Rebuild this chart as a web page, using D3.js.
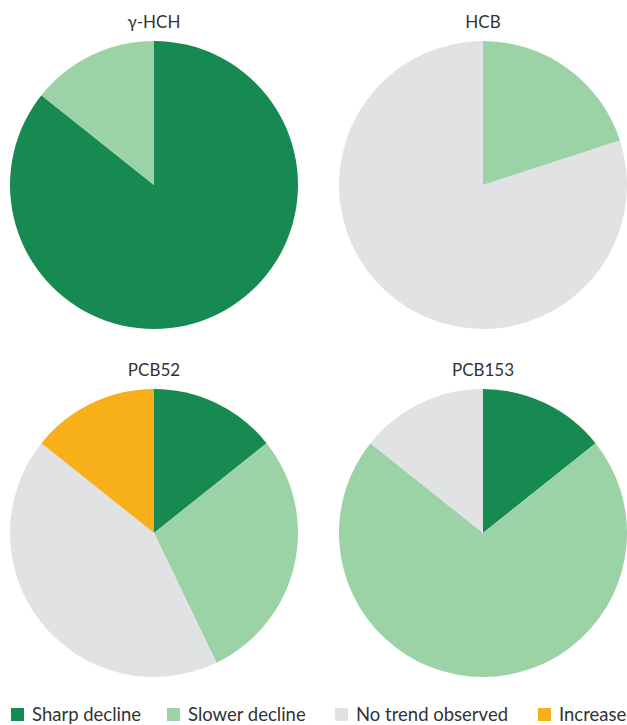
<!DOCTYPE html>
<html>
<head>
<meta charset="utf-8">
<script src="https://cdn.jsdelivr.net/npm/d3@7"></script>
<style>
  html, body { margin: 0; padding: 0; background: #fff; }
  svg { display: block; }
</style>
</head>
<body>
<svg id="chart" width="627" height="725"></svg>
<script>
// Trend categories and their colours
const categories = ["Sharp decline", "Slower decline", "No trend observed", "Increase"];
const colors = ["#178a52", "#9cd3a6", "#e1e2e4", "#f8b01a"];

// Compounds, one pie each
const compounds = ["γ-HCH", "HCB", "PCB52", "PCB153"];

// Number of monitoring series in each trend category, per compound
const sharpDecline  = [6, 0, 1, 1];
const slowerDecline = [1, 1, 2, 5];
const noTrend       = [0, 4, 3, 1];
const increase      = [0, 0, 1, 0];

const svg = d3.select("#chart");
const font = "Lato, 'Open Sans', sans-serif";

const col = d3.scalePoint().domain([0, 1]).range([154, 483]);
const row = d3.scalePoint().domain([0, 1]).range([185, 533]);
const color = d3.scaleOrdinal().domain(categories).range(colors);

const radius = 144;
const pie = d3.pie().sort(null).value(d => d.value);
const arc = d3.arc().innerRadius(0).outerRadius(radius);

compounds.forEach((name, i) => {
  const values = [sharpDecline[i], slowerDecline[i], noTrend[i], increase[i]];
  const data = categories.map((c, k) => ({ category: c, value: values[k] }));
  const cx = col(i % 2), cy = row(Math.floor(i / 2));
  const g = svg.append("g").attr("transform", `translate(${cx},${cy})`);

  g.selectAll("path")
    .data(pie(data).filter(d => d.data.value > 0))
    .join("path")
    .attr("d", arc)
    .attr("fill", d => color(d.data.category));

  g.append("text")
    .attr("x", 0)
    .attr("y", -radius - 13)
    .attr("text-anchor", "middle")
    .attr("font-family", font)
    .attr("font-size", 17)
    .attr("fill", "#333")
    .text(name);
});

// Legend along the bottom
const legendX = [11, 167, 335, 538];
const legend = svg.append("g").attr("transform", "translate(0,708)");
categories.forEach((c, k) => {
  const item = legend.append("g").attr("transform", `translate(${legendX[k]},0)`);
  item.append("rect")
    .attr("width", 13).attr("height", 13)
    .attr("fill", color(c));
  item.append("text")
    .attr("x", 21)
    .attr("y", 13)
    .attr("font-family", font)
    .attr("font-size", 18.5)
    .attr("fill", "#333")
    .text(c);
});
</script>
</body>
</html>
